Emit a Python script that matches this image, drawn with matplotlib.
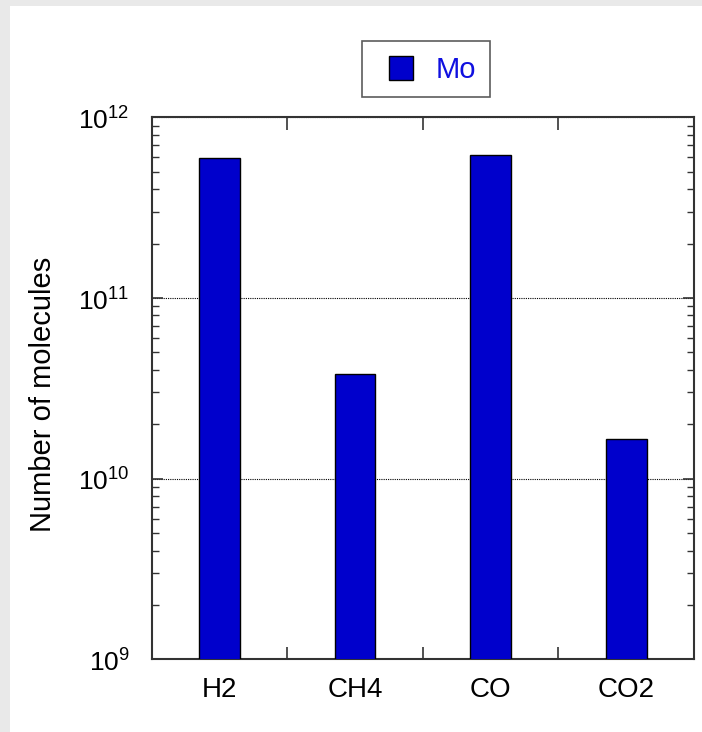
import matplotlib
matplotlib.use("Agg")
import matplotlib.pyplot as plt
from matplotlib.patches import Rectangle
from matplotlib.container import BarContainer
from matplotlib.legend_handler import HandlerPatch, update_from_first_child
from matplotlib.ticker import LogLocator, FixedLocator, NullFormatter, FuncFormatter
import math

# Дані
gases = ["H2", "CH4", "CO", "CO2"]
molecules = [5.93e11, 3.79e10, 6.18e11, 1.65e10]
series_name = "Mo"

plt.rcParams["font.family"] = ["Liberation Sans", "DejaVu Sans"]
plt.rcParams["mathtext.fontset"] = "custom"
plt.rcParams["mathtext.rm"] = "Liberation Sans"

W, H = 702, 732
fig = plt.figure(figsize=(W / 100, H / 100), dpi=100)
fig.patch.set_facecolor("#e9e9e9")
# біла панель (сіра смуга зліва і зверху)
fig.patches.append(Rectangle((10 / W, 0), 1, 1 - 6 / H, transform=fig.transFigure,
                             facecolor="white", edgecolor="none", zorder=-10))

ax = fig.add_axes([151.7 / W, 1 - 659.3 / H, 542.3 / W, 542 / H])
ax.set_facecolor("white")

xs = list(range(1, len(gases) + 1))
ax.bar(xs, molecules, width=0.3, color="#0000cc", edgecolor="black",
       linewidth=1.0, label=series_name, zorder=3)

ax.set_yscale("log")
ax.set_ylim(1e9, 1e12)
ax.set_xlim(0.5, len(gases) + 0.5)

ax.set_xticks(xs)
ax.set_xticklabels(gases, fontsize=20)
ax.xaxis.set_minor_locator(FixedLocator([x + 0.5 for x in xs[:-1]]))
ax.tick_params(axis="x", which="major", length=0, pad=13)
ax.tick_params(axis="x", which="minor", direction="in", length=9, width=1.2,
               top=True, bottom=True, color="#333333")

ax.yaxis.set_major_locator(LogLocator(base=10, numticks=10))
ax.yaxis.set_major_formatter(FuncFormatter(lambda v, p: r"$10^{%d}$" % round(math.log10(v))))
ax.yaxis.set_minor_locator(LogLocator(base=10, subs=range(2, 10), numticks=10))
ax.yaxis.set_minor_formatter(NullFormatter())
ax.tick_params(axis="y", which="major", direction="in", length=8, width=1.2,
               left=True, right=True, labelsize=19, pad=16, color="#333333")
ax.tick_params(axis="y", which="minor", direction="in", length=5, width=1.0,
               left=True, right=True, color="#333333")

ax.grid(True, axis="y", which="major", linestyle=(0, (1, 1)), color="black",
        linewidth=0.8, zorder=1)

for sp in ax.spines.values():
    sp.set_linewidth(1.5)
    sp.set_color("#333333")

ax.set_ylabel("Number of molecules", fontsize=21)
ax.yaxis.set_label_coords(-0.175, 0.4886)


# квадратний маркер легенди, притиснутий до тексту
def square_patch(legend, orig_handle, xdescent, ydescent, width, height, fontsize):
    s = 17.3
    return Rectangle((-xdescent + width - s, -ydescent + (height - s) / 2), s, s)


leg = ax.legend(loc="center", bbox_to_anchor=((425.5 - 151.7) / 542.3, 1 + (659.3 - 69) / 542 - 1),
                fontsize=21, frameon=True, fancybox=False, handlelength=1.3,
                handleheight=1.0, handletextpad=0.8, borderpad=0.45,
                handler_map={BarContainer: HandlerPatch(patch_func=square_patch,
                                                        update_func=update_from_first_child)})
leg.get_frame().set_edgecolor("#333333")
leg.get_frame().set_linewidth(1.2)
for t in leg.get_texts():
    t.set_color("#1010e0")

fig.savefig("out.png", dpi=100, facecolor=fig.get_facecolor())
